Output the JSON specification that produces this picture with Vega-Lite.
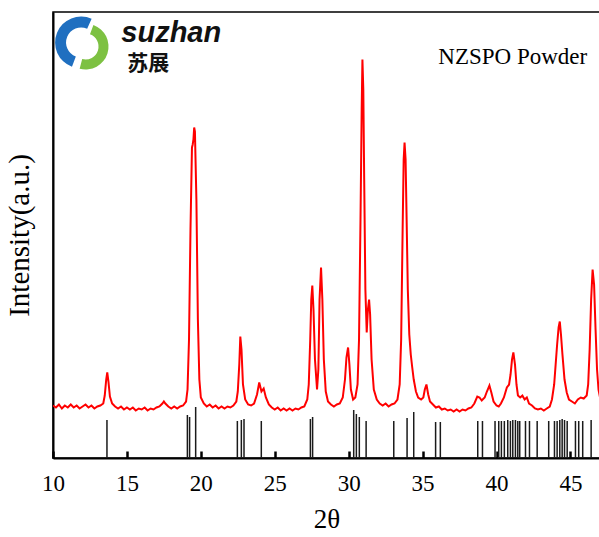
{
  "$schema": "https://vega.github.io/schema/vega-lite/v6.json",
  "width": 547,
  "height": 446,
  "autosize": {"type": "none"},
  "padding": {"left": 53, "top": 12, "right": 0, "bottom": 79},
  "background": "white",
  "config": {
    "view": {"stroke": "black", "strokeWidth": 1.5},
    "font": "Liberation Serif"
  },
  "datasets": {
    "xrd": [
      {"t":10.0,"i":52.5},{"t":10.2,"i":50.5},{"t":10.4,"i":53.5},{"t":10.6,"i":49.5},{"t":10.8,"i":52.5},
      {"t":11.0,"i":50.5},{"t":11.2,"i":53.5},{"t":11.4,"i":50.5},{"t":11.6,"i":52.5},{"t":11.8,"i":49.5},
      {"t":12.0,"i":51.5},{"t":12.2,"i":53.5},{"t":12.4,"i":50.5},{"t":12.6,"i":52.5},{"t":12.8,"i":49.5},
      {"t":13.0,"i":51.5},{"t":13.2,"i":52.5},{"t":13.4,"i":54.5},{"t":13.5,"i":62.5},{"t":13.6,"i":78.5},
      {"t":13.67,"i":85.5},{"t":13.75,"i":76.5},{"t":13.85,"i":61.5},{"t":14.0,"i":54.5},{"t":14.2,"i":51.5},
      {"t":14.4,"i":49.5},{"t":14.6,"i":51.5},{"t":14.8,"i":48.5},{"t":15.0,"i":50.5},{"t":15.2,"i":48.5},
      {"t":15.4,"i":50.5},{"t":15.6,"i":47.5},{"t":15.8,"i":49.5},{"t":16.0,"i":48.5},{"t":16.2,"i":50.5},
      {"t":16.4,"i":47.5},{"t":16.6,"i":49.5},{"t":16.8,"i":48.5},{"t":17.0,"i":50.5},{"t":17.2,"i":51.5},
      {"t":17.4,"i":54.5},{"t":17.5,"i":56.5},{"t":17.6,"i":54.5},{"t":17.8,"i":51.5},{"t":18.0,"i":49.5},
      {"t":18.2,"i":51.5},{"t":18.4,"i":49.5},{"t":18.6,"i":51.5},{"t":18.8,"i":52.5},{"t":19.0,"i":56.5},
      {"t":19.1,"i":68.5},{"t":19.2,"i":118.5},{"t":19.3,"i":228.5},{"t":19.4,"i":310.5},{"t":19.45,"i":313.5},
      {"t":19.5,"i":318.5},{"t":19.55,"i":330.5},{"t":19.6,"i":326.5},{"t":19.7,"i":258.5},{"t":19.8,"i":138.5},
      {"t":19.9,"i":78.5},{"t":20.0,"i":60.5},{"t":20.2,"i":54.5},{"t":20.4,"i":51.5},{"t":20.6,"i":53.5},
      {"t":20.8,"i":50.5},{"t":21.0,"i":52.5},{"t":21.2,"i":49.5},{"t":21.4,"i":51.5},{"t":21.6,"i":49.5},
      {"t":21.8,"i":51.5},{"t":22.0,"i":50.5},{"t":22.2,"i":52.5},{"t":22.4,"i":56.5},{"t":22.5,"i":66.5},
      {"t":22.6,"i":93.5},{"t":22.67,"i":121.5},{"t":22.75,"i":108.5},{"t":22.85,"i":73.5},{"t":23.0,"i":58.5},
      {"t":23.2,"i":53.5},{"t":23.4,"i":52.5},{"t":23.6,"i":54.5},{"t":23.8,"i":63.5},{"t":23.95,"i":75.5},
      {"t":24.1,"i":66.5},{"t":24.25,"i":69.5},{"t":24.4,"i":60.5},{"t":24.6,"i":53.5},{"t":24.8,"i":50.5},
      {"t":25.0,"i":48.5},{"t":25.2,"i":50.5},{"t":25.4,"i":47.5},{"t":25.6,"i":49.5},{"t":25.8,"i":47.5},
      {"t":26.0,"i":49.5},{"t":26.2,"i":47.5},{"t":26.4,"i":49.5},{"t":26.6,"i":48.5},{"t":26.8,"i":50.5},
      {"t":27.0,"i":51.5},{"t":27.2,"i":58.5},{"t":27.3,"i":73.5},{"t":27.4,"i":118.5},{"t":27.47,"i":158.5},
      {"t":27.54,"i":172.5},{"t":27.62,"i":148.5},{"t":27.72,"i":98.5},{"t":27.86,"i":68.5},{"t":27.95,"i":88.5},
      {"t":28.03,"i":158.5},{"t":28.13,"i":190.5},{"t":28.22,"i":158.5},{"t":28.32,"i":98.5},{"t":28.45,"i":66.5},
      {"t":28.6,"i":56.5},{"t":28.8,"i":53.5},{"t":29.0,"i":51.5},{"t":29.2,"i":53.5},{"t":29.4,"i":54.5},
      {"t":29.6,"i":60.5},{"t":29.75,"i":78.5},{"t":29.85,"i":100.5},{"t":29.96,"i":110.5},{"t":30.05,"i":93.5},
      {"t":30.15,"i":68.5},{"t":30.3,"i":58.5},{"t":30.45,"i":60.5},{"t":30.6,"i":73.5},{"t":30.7,"i":118.5},
      {"t":30.8,"i":238.5},{"t":30.88,"i":348.5},{"t":30.93,"i":398.5},{"t":30.99,"i":368.5},{"t":31.05,"i":278.5},
      {"t":31.13,"i":168.5},{"t":31.22,"i":125.5},{"t":31.3,"i":148.5},{"t":31.38,"i":158.5},{"t":31.45,"i":143.5},
      {"t":31.55,"i":98.5},{"t":31.7,"i":68.5},{"t":31.9,"i":58.5},{"t":32.1,"i":54.5},{"t":32.3,"i":52.5},
      {"t":32.5,"i":54.5},{"t":32.7,"i":51.5},{"t":32.9,"i":53.5},{"t":33.1,"i":54.5},{"t":33.3,"i":58.5},
      {"t":33.45,"i":73.5},{"t":33.55,"i":118.5},{"t":33.65,"i":228.5},{"t":33.72,"i":298.5},{"t":33.78,"i":315.5},
      {"t":33.85,"i":298.5},{"t":33.92,"i":238.5},{"t":34.0,"i":168.5},{"t":34.1,"i":123.5},{"t":34.2,"i":103.5},
      {"t":34.3,"i":90.5},{"t":34.4,"i":78.5},{"t":34.55,"i":66.5},{"t":34.7,"i":60.5},{"t":34.9,"i":58.5},
      {"t":35.05,"i":60.5},{"t":35.15,"i":68.5},{"t":35.26,"i":73.5},{"t":35.38,"i":63.5},{"t":35.5,"i":56.5},
      {"t":35.7,"i":53.5},{"t":35.9,"i":50.5},{"t":36.1,"i":51.5},{"t":36.3,"i":48.5},{"t":36.5,"i":49.5},
      {"t":36.7,"i":47.5},{"t":36.9,"i":48.5},{"t":37.1,"i":46.5},{"t":37.3,"i":48.5},{"t":37.5,"i":46.5},
      {"t":37.7,"i":48.5},{"t":37.9,"i":47.5},{"t":38.1,"i":49.5},{"t":38.3,"i":50.5},{"t":38.5,"i":54.5},
      {"t":38.7,"i":61.5},{"t":38.85,"i":60.5},{"t":39.0,"i":57.5},{"t":39.2,"i":60.5},{"t":39.35,"i":66.5},
      {"t":39.52,"i":72.5},{"t":39.65,"i":65.5},{"t":39.8,"i":56.5},{"t":40.0,"i":52.5},{"t":40.15,"i":51.5},
      {"t":40.3,"i":54.5},{"t":40.5,"i":60.5},{"t":40.7,"i":70.5},{"t":40.85,"i":73.5},{"t":40.95,"i":83.5},
      {"t":41.05,"i":98.5},{"t":41.14,"i":105.5},{"t":41.25,"i":93.5},{"t":41.35,"i":73.5},{"t":41.45,"i":62.5},
      {"t":41.6,"i":60.5},{"t":41.75,"i":62.5},{"t":41.9,"i":58.5},{"t":42.05,"i":60.5},{"t":42.2,"i":54.5},
      {"t":42.4,"i":52.5},{"t":42.6,"i":49.5},{"t":42.8,"i":48.5},{"t":43.0,"i":49.5},{"t":43.2,"i":47.5},
      {"t":43.4,"i":49.5},{"t":43.6,"i":51.5},{"t":43.75,"i":58.5},{"t":43.9,"i":73.5},{"t":44.0,"i":93.5},
      {"t":44.1,"i":113.5},{"t":44.2,"i":130.5},{"t":44.28,"i":136.5},{"t":44.36,"i":123.5},{"t":44.46,"i":103.5},
      {"t":44.6,"i":78.5},{"t":44.75,"i":65.5},{"t":44.9,"i":58.5},{"t":45.1,"i":56.5},{"t":45.3,"i":54.5},
      {"t":45.5,"i":58.5},{"t":45.7,"i":60.5},{"t":45.9,"i":59.5},{"t":46.1,"i":62.5},{"t":46.2,"i":73.5},
      {"t":46.3,"i":108.5},{"t":46.4,"i":158.5},{"t":46.5,"i":188.5},{"t":46.6,"i":173.5},{"t":46.7,"i":128.5},
      {"t":46.8,"i":88.5},{"t":46.9,"i":68.5},{"t":47.0,"i":60.5}
    ],
    "ref": [
      {"t":13.65,"h":38},{"t":19.09,"h":43},{"t":19.24,"h":41},{"t":19.65,"h":51},{"t":22.47,"h":37},
      {"t":22.74,"h":38},{"t":22.92,"h":39},{"t":24.09,"h":37},{"t":27.41,"h":39},{"t":27.56,"h":41},
      {"t":30.34,"h":48},{"t":30.52,"h":44},{"t":30.72,"h":41},{"t":31.18,"h":37},{"t":33.05,"h":37},
      {"t":33.95,"h":40},{"t":34.4,"h":46},{"t":35.88,"h":36},{"t":36.2,"h":36},{"t":38.73,"h":37},
      {"t":39.05,"h":37},{"t":39.9,"h":37},{"t":40.15,"h":37},{"t":40.33,"h":37},{"t":40.53,"h":37},
      {"t":40.76,"h":38},{"t":40.94,"h":37},{"t":41.1,"h":38},{"t":41.28,"h":38},{"t":41.44,"h":37},
      {"t":41.57,"h":37},{"t":41.96,"h":37},{"t":42.23,"h":37},{"t":42.75,"h":37},{"t":43.53,"h":37},
      {"t":43.92,"h":37},{"t":44.1,"h":37},{"t":44.28,"h":38},{"t":44.44,"h":39},{"t":44.6,"h":38},
      {"t":44.78,"h":37},{"t":45.34,"h":37},{"t":45.56,"h":37},{"t":45.83,"h":37},{"t":46.4,"h":38}
    ]
  },
  "layer": [
    {
      "data": {"name": "xrd"},
      "mark": {"type": "line", "color": "#ff0000", "strokeWidth": 2, "clip": true},
      "encoding": {
        "x": {
          "field": "t", "type": "quantitative",
          "scale": {"domain": [10, 47.0], "nice": false, "zero": false},
          "axis": {
            "title": "2θ",
            "values": [10, 12.5, 15, 17.5, 20, 22.5, 25, 27.5, 30, 32.5, 35, 37.5, 40, 42.5, 45],
            "labelExpr": "datum.value % 5 === 0 ? datum.label : ''",
            "labelFlush": false,
            "tickSize": {"condition": {"test": "datum.value % 5 === 0", "value": -7}, "value": -4},
            "tickWidth": 2.5,
            "tickColor": "black",
            "domainColor": "black",
            "domainWidth": 2,
            "grid": false,
            "labelFont": "Liberation Serif",
            "labelFontSize": 23,
            "labelColor": "black",
            "labelPadding": 21,
            "titleFont": "Liberation Serif",
            "titleFontSize": 27,
            "titleFontWeight": "normal",
            "titleColor": "black",
            "titlePadding": 11
          }
        },
        "y": {
          "field": "i", "type": "quantitative",
          "scale": {"domain": [0, 446], "nice": false},
          "axis": {
            "title": "Intensity(a.u.)",
            "ticks": false,
            "labels": false,
            "grid": false,
            "domainColor": "black",
            "domainWidth": 2,
            "titleFont": "Liberation Serif",
            "titleFontSize": 29,
            "titleFontWeight": "normal",
            "titleColor": "black",
            "titlePadding": 19
          }
        }
      }
    },
    {
      "data": {"name": "ref"},
      "mark": {"type": "rule", "color": "#1a1a1a", "strokeWidth": 1.5},
      "encoding": {
        "x": {"field": "t", "type": "quantitative"},
        "y": {"field": "h", "type": "quantitative"},
        "y2": {"datum": 0}
      }
    },
    {
      "data": {"values": [{"t": 41.1, "i": 401.5, "s": "NZSPO Powder"}]},
      "mark": {"type": "text", "font": "Liberation Serif", "fontSize": 23, "color": "black", "align": "center", "baseline": "middle"},
      "encoding": {
        "x": {"field": "t", "type": "quantitative"},
        "y": {"field": "i", "type": "quantitative"},
        "text": {"field": "s"}
      }
    },
    {
      "data": {"values": [{"t": 11.9, "i": 415.5}]},
      "mark": {"type": "arc", "theta": 3.5, "theta2": 6.7, "radius": 26, "radius2": 15, "color": "#1f6fc0"},
      "encoding": {"x": {"field": "t", "type": "quantitative"}, "y": {"field": "i", "type": "quantitative"}}
    },
    {
      "data": {"values": [{"t": 12.2, "i": 411.5}]},
      "mark": {"type": "arc", "theta": 0.35, "theta2": 3.4, "radius": 23, "radius2": 13, "color": "#7dc142"},
      "encoding": {"x": {"field": "t", "type": "quantitative"}, "y": {"field": "i", "type": "quantitative"}}
    },
    {
      "data": {"values": [{"t": 18.0, "i": 416.5, "s": "suzhan"}]},
      "mark": {"type": "text", "font": "Liberation Sans", "fontSize": 29, "fontWeight": "bold", "fontStyle": "italic", "color": "#111", "align": "center", "baseline": "alphabetic"},
      "encoding": {
        "x": {"field": "t", "type": "quantitative"},
        "y": {"field": "i", "type": "quantitative"},
        "text": {"field": "s"}
      }
    },
    {
      "data": {"values": [{"t": 16.45, "i": 394.0, "s": "苏展"}]},
      "mark": {"type": "text", "font": "Noto Sans CJK SC", "fontSize": 21, "fontWeight": "bold", "color": "#111", "align": "center", "baseline": "middle"},
      "encoding": {
        "x": {"field": "t", "type": "quantitative"},
        "y": {"field": "i", "type": "quantitative"},
        "text": {"field": "s"}
      }
    }
  ]
}
